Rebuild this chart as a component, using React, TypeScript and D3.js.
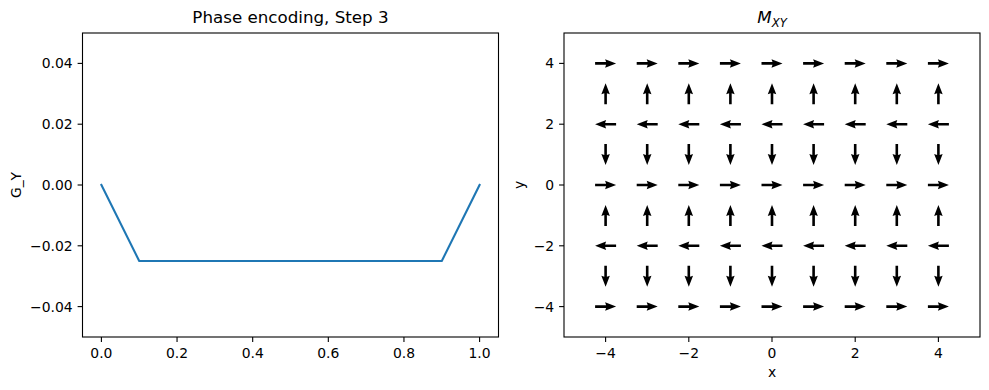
import React from "react";
import * as d3 from "d3";

const W = 989;
const H = 390;

const lineX = [0, 0.1, 0.9, 1.0];
const lineY = [0, -0.025, -0.025, 0];
const leftXTicks = [0, 0.2, 0.4, 0.6, 0.8, 1.0];
const leftYTicks = [-0.04, -0.02, 0, 0.02, 0.04];

const gridX = [-4, -3, -2, -1, 0, 1, 2, 3, 4];
const gridY = [-4, -3, -2, -1, 0, 1, 2, 3, 4];
// angle (degrees, counter-clockwise) of the magnetisation per row y
const rowAngle = [-360, -270, -180, -90, 0, 90, 180, 270, 360].map((a) => -a);
const rightTicks = [-4, -2, 0, 2, 4];

const FONT = "DejaVu Sans, sans-serif";
const TICK_FS = 13.9;

const L = { x0: 82.5, x1: 498.5, y0: 33, y1: 337 };
const R = { x0: 564, x1: 980, y0: 33, y1: 337 };

export default function App() {
  const lx = d3.scaleLinear().domain([-0.05, 1.05]).range([L.x0, L.x1]);
  const ly = d3.scaleLinear().domain([-0.05, 0.05]).range([L.y1, L.y0]);
  const rx = d3.scaleLinear().domain([-5, 5]).range([R.x0, R.x1]);
  const ry = d3.scaleLinear().domain([-5, 5]).range([R.y1, R.y0]);

  const line = d3
    .line<number>()
    .x((_, i) => lx(lineX[i]))
    .y((d) => ly(d));

  const fmtL = (v: number) => {
    const s = Math.abs(v).toFixed(2);
    return (v < -1e-9 ? "\u2212" : "") + s;
  };
  const fmtX = (v: number) => v.toFixed(1);
  const fmtR = (v: number) => (v < 0 ? "\u2212" + Math.abs(v) : String(v));

  // quiver arrow geometry (pixels)
  const len = 21;
  const w = 2.6;
  const hl = 11;
  const hal = 10;
  const hw = 8.5;
  const arrowPts: [number, number][] = [
    [0, -w / 2],
    [len - hal, -w / 2],
    [len - hl, -hw / 2],
    [len, 0],
    [len - hl, hw / 2],
    [len - hal, w / 2],
    [0, w / 2],
  ].map(([a, b]) => [a - len / 2, b] as [number, number]);
  const arrowPath = "M" + arrowPts.map((p) => p.join(",")).join("L") + "Z";

  const tickLen = 4.9;

  return (
    <svg width={W} height={H} style={{ display: "block", position: "absolute", left: 0, top: 0 }} fontFamily={FONT}>
      <rect width={W} height={H} fill="#fff" />
      {/* LEFT PANEL */}
      <text x={(L.x0 + L.x1) / 2} y={23} textAnchor="middle" fontSize={16.7}>
        Phase encoding, Step 3
      </text>
      <path d={line(lineY) || ""} fill="none" stroke="#1f77b4" strokeWidth={2.1} strokeLinejoin="round" strokeLinecap="square" />
      {leftXTicks.map((t) => (
        <g key={"lx" + t}>
          <line x1={lx(t)} x2={lx(t)} y1={L.y1} y2={L.y1 + tickLen} stroke="#000" strokeWidth={1.1} />
          <text x={lx(t)} y={L.y1 + tickLen + 4.9 + 11} textAnchor="middle" fontSize={TICK_FS}>
            {fmtX(t)}
          </text>
        </g>
      ))}
      {leftYTicks.map((t) => (
        <g key={"ly" + t}>
          <line x1={L.x0} x2={L.x0 - tickLen} y1={ly(t)} y2={ly(t)} stroke="#000" strokeWidth={1.1} />
          <text x={L.x0 - tickLen - 4.9} y={ly(t)} dy="0.36em" textAnchor="end" fontSize={TICK_FS}>
            {fmtL(t)}
          </text>
        </g>
      ))}
      <text transform={`translate(21,${(L.y0 + L.y1) / 2}) rotate(-90)`} textAnchor="middle" fontSize={TICK_FS}>
        G_Y
      </text>
      <rect x={L.x0} y={L.y0} width={L.x1 - L.x0} height={L.y1 - L.y0} fill="none" stroke="#000" strokeWidth={1.1} />

      {/* RIGHT PANEL */}
      <text x={(R.x0 + R.x1) / 2} y={23} textAnchor="middle" fontSize={16.7} fontStyle="italic">
        M
        <tspan fontSize={11.7} dy={4}>XY</tspan>
      </text>
      {gridY.map((gy, j) =>
        gridX.map((gx) => (
          <path
            key={`a${gx}_${gy}`}
            d={arrowPath}
            transform={`translate(${rx(gx)},${ry(gy)}) rotate(${-rowAngle[j]})`}
            fill="#000"
          />
        ))
      )}
      {rightTicks.map((t) => (
        <g key={"rx" + t}>
          <line x1={rx(t)} x2={rx(t)} y1={R.y1} y2={R.y1 + tickLen} stroke="#000" strokeWidth={1.1} />
          <text x={rx(t)} y={R.y1 + tickLen + 4.9 + 11} textAnchor="middle" fontSize={TICK_FS}>
            {fmtR(t)}
          </text>
        </g>
      ))}
      {rightTicks.map((t) => (
        <g key={"ry" + t}>
          <line x1={R.x0} x2={R.x0 - tickLen} y1={ry(t)} y2={ry(t)} stroke="#000" strokeWidth={1.1} />
          <text x={R.x0 - tickLen - 4.9} y={ry(t)} dy="0.36em" textAnchor="end" fontSize={TICK_FS}>
            {fmtR(t)}
          </text>
        </g>
      ))}
      <text x={(R.x0 + R.x1) / 2} y={377} textAnchor="middle" fontSize={TICK_FS}>
        x
      </text>
      <text transform={`translate(524,${(R.y0 + R.y1) / 2}) rotate(-90)`} textAnchor="middle" fontSize={TICK_FS}>
        y
      </text>
      <rect x={R.x0} y={R.y0} width={R.x1 - R.x0} height={R.y1 - R.y0} fill="none" stroke="#000" strokeWidth={1.1} />
    </svg>
  );
}
